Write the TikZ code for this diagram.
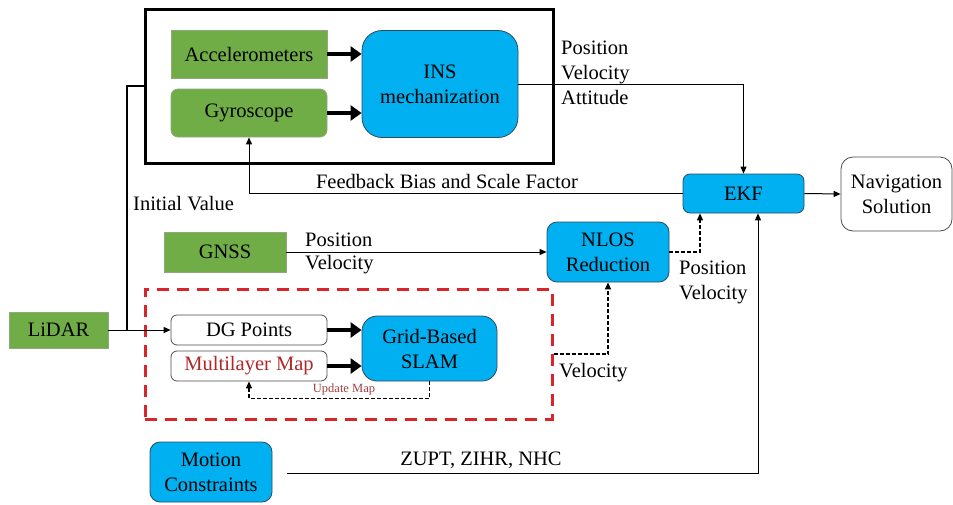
\documentclass[tikz,border=0pt]{standalone}
\usepackage{fontspec}
\setmainfont{Liberation Serif}
\newfontfamily\tnr{Liberation Serif}
\usetikzlibrary{arrows.meta}
\definecolor{gfill}{HTML}{70AD47}
\definecolor{gline}{HTML}{8FA880}
\definecolor{bfill}{HTML}{00B0F0}
\definecolor{bline}{HTML}{2E4A60}
\definecolor{rline}{HTML}{D9252A}
\definecolor{rtext}{HTML}{B0282A}
\definecolor{utext}{HTML}{9E3D44}
\tikzset{
  txt/.style={font=\tnr\fontsize{20.5}{25}\selectfont},
  gbox/.style={txt,draw=gline,fill=gfill,line width=0.8pt,align=center,inner sep=0pt},
  bbox/.style={txt,draw=bline,fill=bfill,line width=0.8pt,align=center,inner sep=0pt},
  wbox/.style={txt,draw=black!70,fill=white,line width=0.8pt,align=center,inner sep=0pt},
  thin/.style={line width=1pt,-{Triangle[length=7pt,width=6pt]}},
  thick/.style={line width=3.5pt,-{Triangle[length=11pt,width=15pt]}},
  dsh/.style={line width=1.2pt,dash pattern=on 4pt off 2pt,-{Triangle[length=7pt,width=6pt]}},
  lbl/.style={txt,inner sep=0pt},
}
\begin{document}
\begin{tikzpicture}[x=1pt,y=-1pt]
\useasboundingbox (0,0) rectangle (953,504);
% containers
\node[draw=black,line width=3pt,minimum width=408,minimum height=154,inner sep=0pt] (imu) at (349,86) {};
\node[draw=rline,line width=3pt,dash pattern=on 12pt off 8pt,minimum width=407,minimum height=130,inner sep=0pt] (red) at (348.5,354) {};
% nodes
\node[gbox,minimum width=156,minimum height=48] (acc) at (249,54) {Accelerometers};
\node[gbox,rounded corners=7pt,minimum width=156,minimum height=48] (gyro) at (249,113) {Gyroscope};
\node[bbox,rounded corners=20pt,minimum width=156,minimum height=107] (ins) at (440,84) {INS\\mechanization};
\node[bbox,rounded corners=7pt,minimum width=121,minimum height=39] (ekf) at (743.5,193.5) {EKF};
\node[wbox,rounded corners=12pt,minimum width=111,minimum height=74] (nav) at (896.5,194) {Navigation\\Solution};
\node[gbox,minimum width=122,minimum height=40] (gnss) at (225,252) {GNSS};
\node[bbox,rounded corners=10pt,minimum width=122,minimum height=60] (nlos) at (608,252) {NLOS\\Reduction};
\node[gbox,minimum width=99,minimum height=36] (lidar) at (58.5,330) {LiDAR};
\node[wbox,rounded corners=6pt,minimum width=156,minimum height=30] (dg) at (249,330) {DG Points};
\node[wbox,rounded corners=6pt,minimum width=156,minimum height=30,text=rtext] (ml) at (249,366) {Multilayer Map};
\node[bbox,rounded corners=15pt,minimum width=135,minimum height=65] (slam) at (429.5,348.5) {Grid-Based\\SLAM};
\node[bbox,rounded corners=10pt,minimum width=122,minimum height=60] (mc) at (211,472) {Motion\\Constraints};
% connectors
\draw[thick] (acc.east) -- (acc.east -| ins.west);
\draw[thick] (gyro.east) -- (gyro.east -| ins.west);
\draw[thick] (dg.east) -- (dg.east -| slam.west);
\draw[thick] (ml.east) -- (ml.east -| slam.west);
\draw[thin] (ins.east) -| (ekf.north);
\draw[thin] (ekf.east) -- (nav.west);
\draw[thin] (ekf.west) -| (gyro.south);
\draw[thin] (lidar.east) -- (dg.west);
\coordinate (j) at (127,330);
\draw[line width=1.5pt] (j) |- (imu.west);
\draw[thin] (gnss.east) -- (nlos.west);
\coordinate (ekfa) at (700,213);
\draw[dsh] (nlos.east) -| (ekf.south -| ekfa);
\draw[dsh] (red.east) -| (nlos.south);
\draw[dsh] (slam.south) -- ++(0,17) -| (ml.south);
\coordinate (mcs) at (287,473);
\coordinate (ekfb) at (758,213);
\draw[thin] (mcs) -| (ekf.south -| ekfb);
% labels
\node[lbl,align=left,anchor=west] (pva) at (561,73) {Position\\Velocity\\Attitude};
\node[lbl] (fb) at (447,181) {Feedback Bias and Scale Factor};
\node[lbl,anchor=west] (iv) at (133,204) {Initial Value};
\node[lbl,anchor=west] (gp) at (305,240) {Position};
\node[lbl,anchor=west] (gv) at (305,265) {Velocity};
\node[lbl,align=left,anchor=west] (npv) at (679,282) {Position\\Velocity};
\node[lbl,anchor=west] (sv) at (559,373) {Velocity};
\node[lbl] (zu) at (481,460) {ZUPT, ZIHR, NHC};
\node[inner sep=0pt,text=utext,font=\tnr\fontsize{12.5}{14}\selectfont] (um) at (344,389) {Update Map};
\end{tikzpicture}
\end{document}
